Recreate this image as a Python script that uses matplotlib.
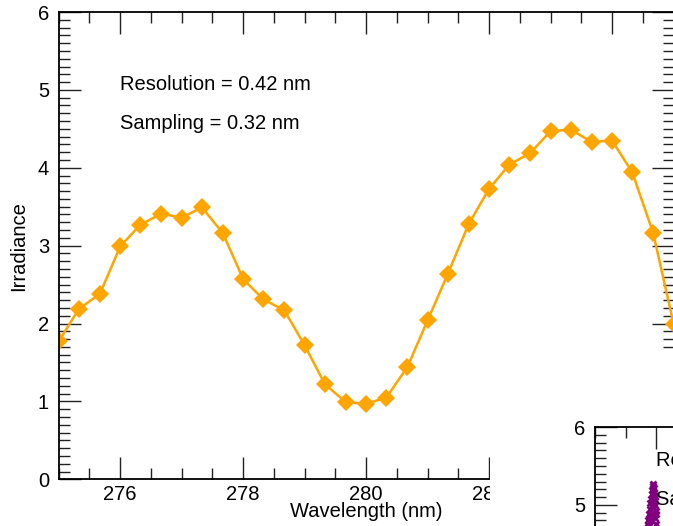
import matplotlib
matplotlib.use("Agg")
import matplotlib.pyplot as plt
from matplotlib.ticker import MultipleLocator
from matplotlib.patches import Rectangle

plt.rcParams['font.family'] = ['Liberation Sans', 'DejaVu Sans']
plt.rcParams['font.size'] = 14.5

# sampled spectrum (0.42 nm resolution)
wavelength = [275.00, 275.33, 275.67, 276.00, 276.33, 276.67, 277.00, 277.33,
              277.67, 278.00, 278.33, 278.67, 279.00, 279.33, 279.67, 280.00,
              280.33, 280.67, 281.00, 281.33, 281.67, 282.00, 282.33, 282.67,
              283.00, 283.33, 283.67, 284.00, 284.33, 284.67, 285.00]
irradiance = [1.77, 2.19, 2.38, 2.99, 3.27, 3.41, 3.36, 3.49, 3.16, 2.57,
              2.31, 2.17, 1.72, 1.22, 0.99, 0.97, 1.05, 1.44, 2.04, 2.64,
              3.28, 3.73, 4.04, 4.19, 4.47, 4.49, 4.33, 4.35, 3.94, 3.16, 2.00]

# second panel, finely sampled spectrum (only a corner is visible)
fine_x = [275.86, 275.87, 275.88, 275.89, 275.90, 275.91, 275.92, 275.93,
          275.94, 275.95, 275.96, 275.97, 275.98, 275.99, 276.00,
          275.87, 275.89, 275.91, 275.93, 275.95, 275.97, 275.99,
          275.88, 275.90, 275.92, 275.94, 275.96, 275.98]
fine_y = [4.72, 4.80, 4.88, 4.95, 5.02, 5.08, 5.14, 5.19, 5.24, 5.27,
          5.22, 5.12, 5.00, 4.88, 4.75,
          4.74, 4.79, 4.84, 4.90, 4.97, 5.05, 4.92,
          4.76, 4.82, 4.98, 5.10, 5.15, 4.83]

orange = '#FFA500'
purple = '#800080'


def style_axes(ax):
    ax.set_xlim(275, 285)
    ax.set_ylim(0, 6)
    ax.xaxis.set_major_locator(MultipleLocator(2))
    ax.xaxis.set_minor_locator(MultipleLocator(0.5))
    ax.yaxis.set_major_locator(MultipleLocator(1))
    ax.yaxis.set_minor_locator(MultipleLocator(0.1))
    ax.tick_params(which='both', direction='in', top=True, right=True,
                   width=1.0, color='#222222')
    ax.tick_params(which='major', length=15.8)
    ax.tick_params(which='minor', length=7.9)
    ax.tick_params(axis='x', pad=4)
    ax.tick_params(axis='y', pad=7)
    for s in ax.spines.values():
        s.set_linewidth(1.3)
    ax.set_xlabel('Wavelength (nm)', labelpad=-1)
    ax.set_ylabel('Irradiance', labelpad=7)


fig = plt.figure(figsize=(6.73, 5.26), dpi=100)

W, H = 673.0, 526.0
ax = fig.add_axes([58.7 / W, 1 - 479.3 / H, 614.8 / W, 467.3 / H])
style_axes(ax)
ax.plot(wavelength, irradiance, color=orange, lw=1.8, marker='D', ms=9.5,
        mec=orange, mew=0)
ax.text(276.0, 5.0, 'Resolution = 0.42 nm')
ax.text(276.0, 4.5, 'Sampling = 0.32 nm')

# white background of the neighbouring panel
fig.patches.append(Rectangle((490 / W, 0), 1 - 490 / W, 1 - 350 / H,
                             transform=fig.transFigure, facecolor='white',
                             edgecolor='none', zorder=1))

ax2 = fig.add_axes([595 / W, 1 - 427 / H - 467.3 / H, 614.8 / W, 467.3 / H])
ax2.set_zorder(2)
style_axes(ax2)
ax2.plot(fine_x, fine_y, color=purple, lw=0, marker='x', ms=5, mew=2)
ax2.text(276.0, 5.5, 'Resolution = 0.10 nm')
ax2.text(276.0, 5.0, 'Sampling = 0.02 nm')

fig.savefig('out.png', dpi=100)
